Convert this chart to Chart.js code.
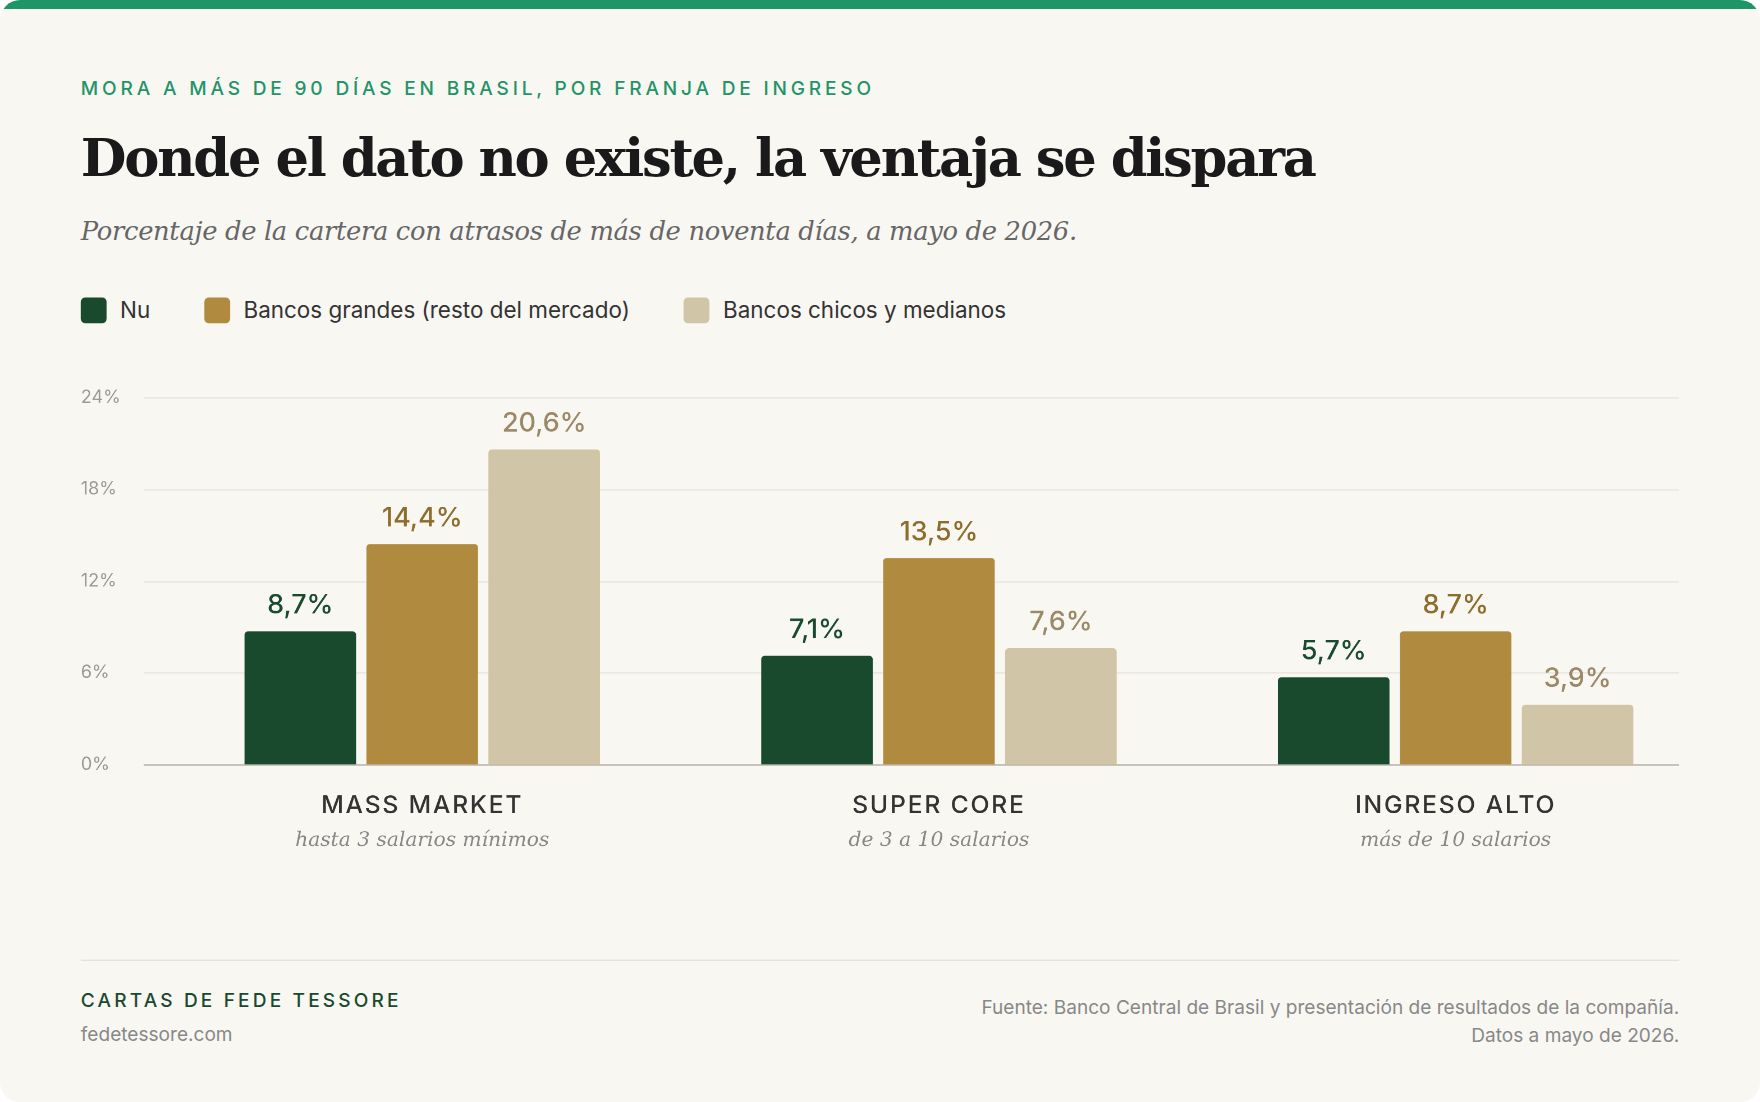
<!DOCTYPE html>
<html>
<head>
<meta charset="utf-8">
<script src="https://cdn.jsdelivr.net/npm/chart.js@4/dist/chart.umd.min.js"></script>
<style>
  html, body { margin: 0; padding: 0; background: #ffffff; }
  body { width: 1760px; height: 1102px; overflow: hidden; }
  #stage { width: 1568px; height: 982px; transform: scale(1.12245); transform-origin: 0 0; position: relative; }
  .card { position: absolute; left: 0; top: 0; width: 1568px; height: 982px; background: #f9f7f2; border-radius: 18px; overflow: hidden; }
  .topbar { position: absolute; left: 0; top: 0; width: 100%; height: 8px; background: #1f9467; }
  .eyebrow { position: absolute; left: 72px; top: 69px; font: 500 17px Inter, sans-serif; letter-spacing: 3.4px; color: #229468; }
  .title { position: absolute; left: 72px; top: 113px; font: 700 47px "DejaVu Serif", serif; letter-spacing: -2px; color: #1a1a1a; }
  .subtitle { position: absolute; left: 72px; top: 193px; font: italic 23px "DejaVu Serif", serif; letter-spacing: -0.3px; color: #666; }
  .legend { position: absolute; left: 72px; top: 264px; display: flex; font: 20px Inter, sans-serif; color: #333; }
  .legend span { display: flex; align-items: center; margin-right: 48px; }
  .legend i { width: 23px; height: 23px; border-radius: 4px; margin-right: 12px; display: inline-block; }
  #chartBox { position: absolute; left: 0; top: 330px; width: 1568px; height: 460px; }
  .rule { position: absolute; left: 72px; top: 855px; width: 1424px; height: 1px; background: #e2ded5; }
  .brand { position: absolute; left: 72px; top: 881px; font: 500 17px Inter, sans-serif; letter-spacing: 2.8px; color: #1a4a2e; }
  .site { position: absolute; left: 72px; top: 911px; font: 17px Inter, sans-serif; color: #888; }
  .source { position: absolute; right: 72px; top: 885px; text-align: right; font: 17px/25px Inter, sans-serif; color: #888; }
</style>
</head>
<body>
<div id="stage">
  <div class="card">
    <div class="topbar"></div>
    <div class="eyebrow">MORA A MÁS DE 90 DÍAS EN BRASIL, POR FRANJA DE INGRESO</div>
    <div class="title">Donde el dato no existe, la ventaja se dispara</div>
    <div class="subtitle">Porcentaje de la cartera con atrasos de más de noventa días, a mayo de 2026.</div>
    <div class="legend">
      <span><i style="background:#1a4a2e"></i>Nu</span>
      <span><i style="background:#b08a3e"></i>Bancos grandes (resto del mercado)</span>
      <span><i style="background:#d1c5a8"></i>Bancos chicos y medianos</span>
    </div>
    <div id="chartBox"><canvas id="moraChart"></canvas></div>
    <div class="rule"></div>
    <div class="brand">CARTAS DE FEDE TESSORE</div>
    <div class="site">fedetessore.com</div>
    <div class="source">Fuente: Banco Central de Brasil y presentación de resultados de la compañía.<br>Datos a mayo de 2026.</div>
  </div>
</div>
<script>
// datos
const categorias = ['MASS MARKET', 'SUPER CORE', 'INGRESO ALTO'];
const subtitulos = ['hasta 3 salarios mínimos', 'de 3 a 10 salarios', 'más de 10 salarios'];
const seriesNombres = ['Nu', 'Bancos grandes (resto del mercado)', 'Bancos chicos y medianos'];
const nu = [8.7, 7.1, 5.7];
const bancosGrandes = [14.4, 13.5, 8.7];
const bancosChicos = [20.6, 7.6, 3.9];
const ticksY = [0, 6, 12, 18, 24];

const barColors = ['#1a4a2e', '#b08a3e', '#d1c5a8'];
const labelColors = ['#1a4a2e', '#8c6d2c', '#9a8866'];

// rejilla propia (va de 128 a 1496)
const rejilla = {
    id: 'rejilla',
    beforeDatasetsDraw(chart) {
        const ctx = chart.ctx;
        const y = chart.scales.y;
        ctx.save();
        ticksY.forEach(t => {
            const py = Math.round(y.getPixelForValue(t)) + 0.5;
            ctx.strokeStyle = t === 0 ? '#bdb8ad' : '#e6e3dc';
            ctx.lineWidth = t === 0 ? 1.5 : 1;
            ctx.beginPath();
            ctx.moveTo(128, py);
            ctx.lineTo(1496, py);
            ctx.stroke();
        });
        ctx.restore();
    }
};

// etiquetas de valor, ejes manuales
const extras = {
    id: 'extras',
    afterDatasetsDraw(chart) {
        const ctx = chart.ctx;
        const y = chart.scales.y;
        const x = chart.scales.x;
        ctx.save();
        ctx.font = '500 24px Inter, sans-serif';
        ctx.textAlign = 'center';
        ctx.textBaseline = 'bottom';
        chart.data.datasets.forEach((ds, i) => {
            chart.getDatasetMeta(i).data.forEach((bar, j) => {
                ctx.fillStyle = labelColors[i];
                ctx.fillText(ds.data[j].toFixed(1).replace('.', ',') + '%', bar.x, bar.y - 11);
            });
        });
        ctx.font = '16px Inter, sans-serif';
        ctx.fillStyle = '#999';
        ctx.textAlign = 'left';
        ctx.textBaseline = 'middle';
        ticksY.forEach(t => ctx.fillText(t + '%', 72, y.getPixelForValue(t)));
        ctx.textAlign = 'center';
        categorias.forEach((c, i) => {
            const cx = x.getPixelForValue(i);
            ctx.font = '500 22px Inter, sans-serif';
            ctx.fillStyle = '#333';
            ctx.letterSpacing = '1.6px';
            ctx.fillText(c, cx, chart.chartArea.bottom + 37);
            ctx.letterSpacing = '0px';
            ctx.font = 'italic 18px "DejaVu Serif", serif';
            ctx.fillStyle = '#888';
            ctx.fillText(subtitulos[i], cx, chart.chartArea.bottom + 68);
        });
        ctx.restore();
    }
};

const ctx = document.getElementById('moraChart').getContext('2d');
new Chart(ctx, {
    type: 'bar',
    data: {
        labels: categorias,
        datasets: [nu, bancosGrandes, bancosChicos].map((d, i) => ({
            label: seriesNombres[i],
            data: d,
            backgroundColor: barColors[i],
            borderRadius: 3,
            borderSkipped: 'bottom',
            categoryPercentage: 0.708,
            barPercentage: 0.915
        }))
    },
    options: {
        responsive: true,
        maintainAspectRatio: false,
        animation: false,
        devicePixelRatio: 2,
        layout: { padding: { left: 138, right: 41, top: 24, bottom: 101 } },
        plugins: { legend: { display: false }, tooltip: { enabled: false } },
        scales: {
            x: {
                grid: { display: false },
                border: { display: false },
                ticks: { display: false }
            },
            y: {
                min: 0,
                max: 24,
                afterBuildTicks: s => { s.ticks = ticksY.map(v => ({ value: v })); },
                ticks: { display: false },
                border: { display: false },
                grid: { display: false }
            }
        }
    },
    plugins: [rejilla, extras]
});
</script>
</body>
</html>
